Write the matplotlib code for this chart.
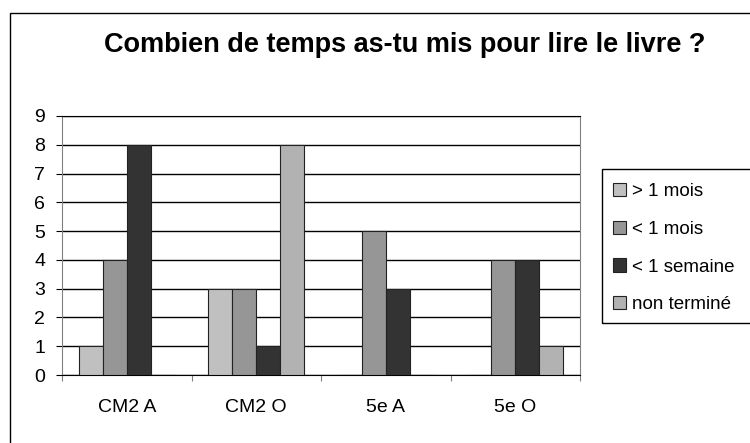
import matplotlib.pyplot as plt
import numpy as np
from matplotlib.patches import Rectangle

plt.rcParams['font.family'] = ['Liberation Sans', 'DejaVu Sans']

classes = ["CM2 A", "CM2 O", "5e A", "5e O"]
series_names = ["> 1 mois", "< 1 mois", "< 1 semaine", "non terminé"]
plus_1_mois = [1, 3, 0, 0]
moins_1_mois = [4, 3, 5, 4]
moins_1_semaine = [8, 1, 3, 4]
non_termine = [0, 8, 0, 1]
colors = ["#C0C0C0", "#969696", "#333333", "#B2B2B2"]

W, H = 750, 443
fig = plt.figure(figsize=(7.5, 4.43), dpi=100)
ax = fig.add_axes([62 / W, 1 - 375 / H, (580 - 62) / W, (375 - 116) / H])

values = [plus_1_mois, moins_1_mois, moins_1_semaine, non_termine]
x = np.arange(len(classes))
bw = 0.185
handles = []
for i, (vals, name, c) in enumerate(zip(values, series_names, colors)):
    b = ax.bar(x + (i - 1.5) * bw, vals, bw, color=c, edgecolor="#222222",
               linewidth=0.8, label=name, zorder=3)
    handles.append(b)

ax.set_xlim(-0.5, 3.5)
ax.set_ylim(0, 9)
ax.set_yticks(range(10))
ax.yaxis.grid(True, color="black", linewidth=1, zorder=0)
ax.set_axisbelow(True)
ax.tick_params(axis="y", labelsize=14, length=4, width=0.8, pad=8)

ax.set_xticks(np.arange(-0.5, 4, 1))
ax.set_xticklabels([])
ax.tick_params(axis="x", which="major", length=4, width=0.8, color="#808080")
ax.set_xticks(x, minor=True)
ax.set_xticklabels(classes, minor=True, fontsize=14)
ax.tick_params(axis="x", which="minor", length=0, pad=17)

for s in ["left", "right"]:
    ax.spines[s].set_color("#808080")
ax.spines["bottom"].set_color("black")
ax.spines["top"].set_color("black")

fig.text(405 / W, 1 - 45 / H, "Combien de temps as-tu mis pour lire le livre ?",
         ha="center", va="center", fontsize=19.5, fontweight="bold")

# outer chart border (cut off on right and bottom)
fig.patches.append(Rectangle((10 / W, -0.2), 1.5, 1 - 13 / H + 0.2,
                             transform=fig.transFigure, fill=False,
                             edgecolor="black", linewidth=1))
# legend box
fig.patches.append(Rectangle((602 / W, 1 - 323 / H), 1.0, (323 - 169) / H,
                             transform=fig.transFigure, fill=False,
                             edgecolor="black", linewidth=1))
fig.legend(handles, series_names, loc="upper left",
           bbox_to_anchor=(596 / W, 1 - 166 / H), frameon=False, fontsize=13.5,
           handlelength=0.7, handleheight=0.7, handletextpad=0.3,
           labelspacing=1.1)

fig.savefig("out.png", dpi=100)
